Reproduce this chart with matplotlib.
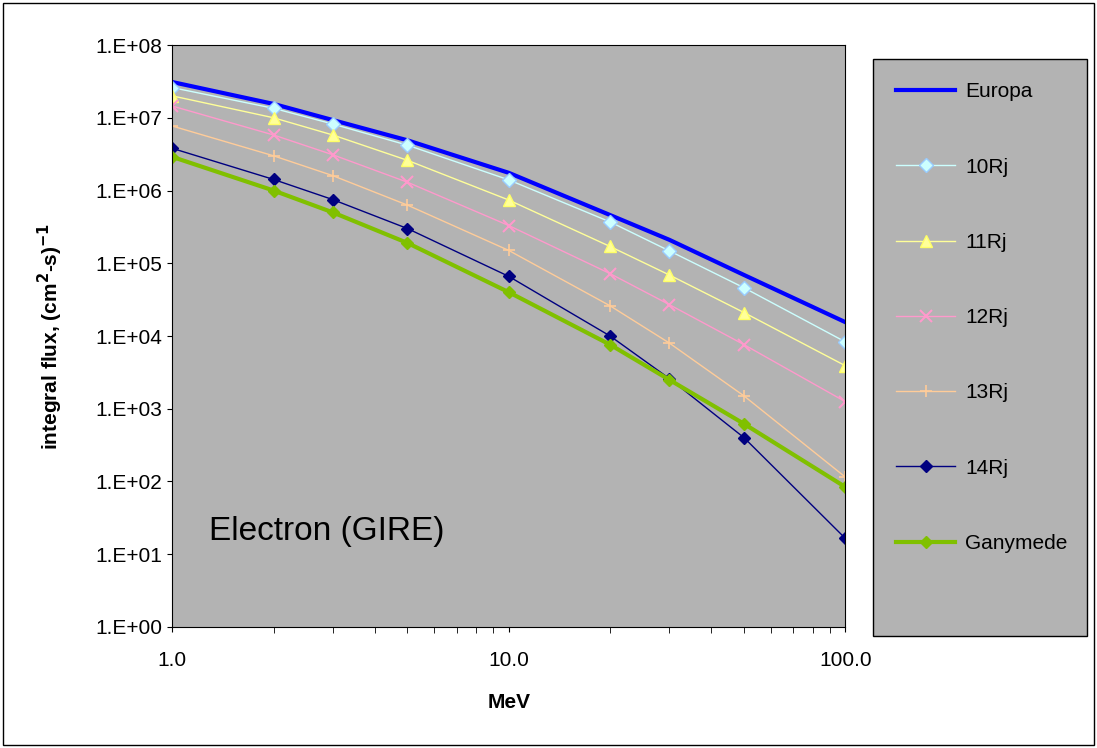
import numpy as np
import matplotlib.pyplot as plt
from matplotlib.ticker import FixedLocator, FixedFormatter, NullFormatter

plt.rcParams['font.family'] = ['Liberation Sans', 'DejaVu Sans']
plt.rcParams['mathtext.default'] = 'bf'

mev = [1, 2, 3, 5, 10, 20, 30, 50, 100]
europa = [3.1e7, 1.55e7, 9.3e6, 4.9e6, 1.75e6, 4.6e5, 2.1e5, 6.9e4, 1.55e4]
rj10 = [2.6e7, 1.35e7, 8.2e6, 4.2e6, 1.4e6, 3.7e5, 1.48e5, 4.6e4, 8.3e3]
rj11 = [2.0e7, 1.0e7, 5.8e6, 2.6e6, 7.4e5, 1.7e5, 6.9e4, 2.1e4, 3.9e3]
rj12 = [1.45e7, 5.8e6, 3.1e6, 1.3e6, 3.3e5, 7.2e4, 2.7e4, 7.6e3, 1.25e3]
rj13 = [7.7e6, 3.0e6, 1.6e6, 6.3e5, 1.5e5, 2.6e4, 8.0e3, 1.5e3, 115]
rj14 = [3.8e6, 1.42e6, 7.5e5, 3.0e5, 6.6e4, 1.0e4, 2.6e3, 4.0e2, 16.5]
ganymede = [2.9e6, 1.0e6, 5.0e5, 1.9e5, 4.0e4, 7.6e3, 2.5e3, 6.2e2, 84]

fig = plt.figure(figsize=(10.97, 7.48), dpi=100)
fig.patches.append(plt.Rectangle((0.003, 0.004), 0.994, 0.992, transform=fig.transFigure,
                                  fill=False, edgecolor='black', lw=1))
# legend box
fig.patches.append(plt.Rectangle((0.796, 0.150), 0.195, 0.771, transform=fig.transFigure,
                                  facecolor='#b3b3b3', edgecolor='black', lw=1))
ax = fig.add_axes([0.157, 0.1618, 0.6136, 0.778])
ax.set_facecolor('#b3b3b3')

ax.plot(mev, europa, color='#0000ff', lw=3, label='Europa')
ax.plot(mev, rj10, color='#ccffff', lw=1, marker='D', ms=7, mec='#99ccff', mfc='#ccffff', label='10Rj')
ax.plot(mev, rj11, color='#ffff99', lw=1, marker='^', ms=9, mfc='#ffff99', mec='#ffff66', label='11Rj')
ax.plot(mev, rj12, color='#ff99cc', lw=1, marker='x', ms=8, mew=1.5, label='12Rj')
ax.plot(mev, rj13, color='#ffcc99', lw=1, marker='+', ms=9, mew=1.2, label='13Rj')
ax.plot(mev, rj14, color='#000080', lw=1, marker='D', ms=6, label='14Rj')
ax.plot(mev, ganymede, color='#80c000', lw=3, marker='D', ms=6, label='Ganymede')

ax.set_xscale('log')
ax.set_yscale('log')
ax.set_xlim(1, 100)
ax.set_ylim(1, 1e8)
ax.xaxis.set_major_locator(FixedLocator([1, 10, 100]))
ax.xaxis.set_major_formatter(FixedFormatter(['1.0', '10.0', '100.0']))
ax.xaxis.set_minor_formatter(NullFormatter())
ax.yaxis.set_major_locator(FixedLocator([10.0**k for k in range(9)]))
ax.yaxis.set_major_formatter(FixedFormatter(['1.E+%02d' % k for k in range(9)]))
ax.yaxis.set_minor_locator(FixedLocator([]))
ax.tick_params(labelsize=15, direction='out')
ax.tick_params(axis='x', which='major', pad=14)
ax.tick_params(axis='x', which='minor', length=4)
ax.set_xlabel('MeV', fontsize=15, fontweight='bold', labelpad=16)
ax.set_ylabel('integral flux, (cm$^{2}$-s)$^{-1}$', fontsize=15, fontweight='bold', labelpad=22)
ax.text(0.055, 0.15, 'Electron (GIRE)', transform=ax.transAxes, fontsize=24)

leg = fig.legend(loc='upper left', bbox_to_anchor=(0.800, 0.915), fontsize=15,
                 frameon=False, labelspacing=2.7, handlelength=2.8, handletextpad=0.5)

fig.savefig('out.png', dpi=100)
